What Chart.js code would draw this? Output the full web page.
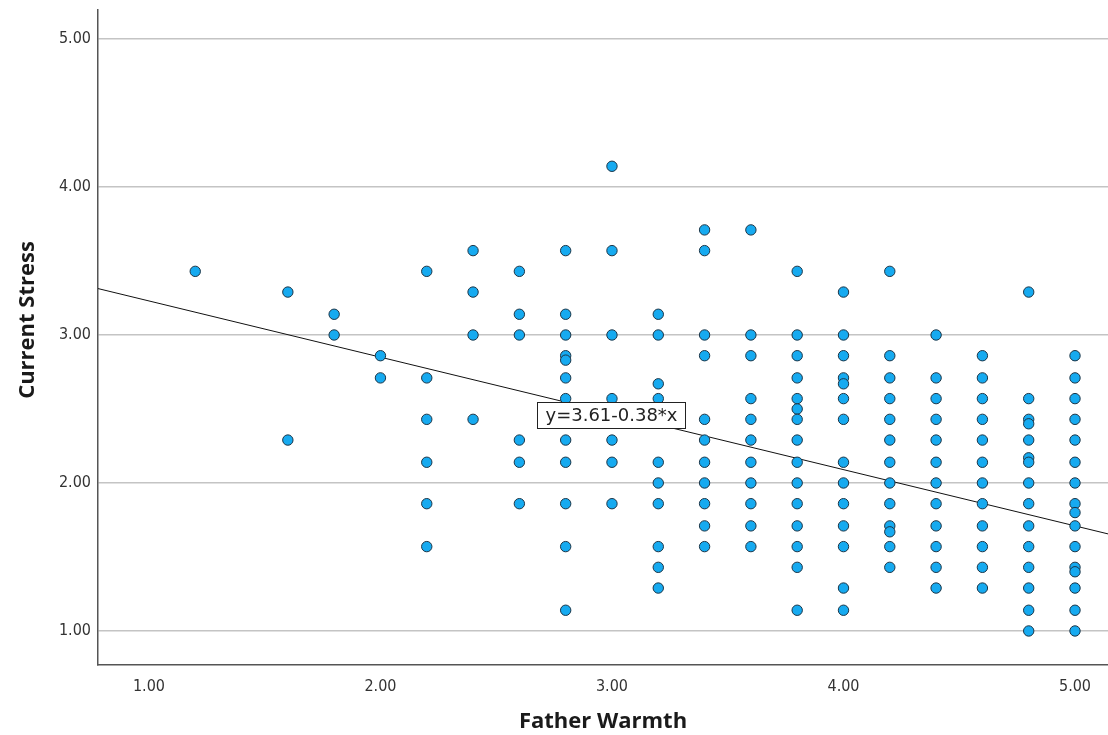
<!DOCTYPE html>
<html>
<head>
<meta charset="utf-8">
<script src="https://cdn.jsdelivr.net/npm/chart.js@4/dist/chart.umd.min.js"></script>
<style>
  html, body { margin: 0; padding: 0; background: #fff; }
  #wrap { width: 1108px; height: 735px; }
</style>
</head>
<body>
<div id="wrap"><canvas id="c" width="1108" height="735"></canvas></div>
<script>
// ---- data ----
const xTitle = "Father Warmth";
const yTitle = "Current Stress";
const xTicks = [1, 2, 3, 4, 5];
const yTicks = [1, 2, 3, 4, 5];
const fitIntercept = 3.61;
const fitSlope = -0.38;
const fitLabel = "y=3.61-0.38*x";
const fitLabelAt = [3.0, 2.46];

const warmthLevels = [1.2, 1.6, 1.8, 2.0, 2.2, 2.4, 2.6, 2.8, 3.0, 3.2, 3.4, 3.6, 3.8, 4.0, 4.2, 4.4, 4.6, 4.8, 5.0];
const stressAt12 = [3.43];
const stressAt16 = [3.29, 2.29];
const stressAt18 = [3.14, 3.00];
const stressAt20 = [2.86, 2.71];
const stressAt22 = [3.43, 2.71, 2.43, 2.14, 1.86, 1.57];
const stressAt24 = [3.57, 3.29, 3.00, 2.43];
const stressAt26 = [3.43, 3.14, 3.00, 2.29, 2.14, 1.86];
const stressAt28 = [3.57, 3.14, 3.00, 2.86, 2.83, 2.71, 2.57, 2.29, 2.14, 1.86, 1.57, 1.14];
const stressAt30 = [4.14, 3.57, 3.00, 2.57, 2.29, 2.14, 1.86];
const stressAt32 = [3.14, 3.00, 2.67, 2.57, 2.14, 2.00, 1.86, 1.57, 1.43, 1.29];
const stressAt34 = [3.71, 3.57, 3.00, 2.86, 2.43, 2.29, 2.14, 2.00, 1.86, 1.71, 1.57];
const stressAt36 = [3.71, 3.00, 2.86, 2.57, 2.43, 2.29, 2.14, 2.00, 1.86, 1.71, 1.57];
const stressAt38 = [3.43, 3.00, 2.86, 2.71, 2.57, 2.50, 2.43, 2.29, 2.14, 2.00, 1.86, 1.71, 1.57, 1.43, 1.14];
const stressAt40 = [3.29, 3.00, 2.86, 2.71, 2.67, 2.57, 2.43, 2.14, 2.00, 1.86, 1.71, 1.57, 1.29, 1.14];
const stressAt42 = [3.43, 2.86, 2.71, 2.57, 2.43, 2.29, 2.14, 2.00, 1.86, 1.71, 1.67, 1.57, 1.43];
const stressAt44 = [3.00, 2.71, 2.57, 2.43, 2.29, 2.14, 2.00, 1.86, 1.71, 1.57, 1.43, 1.29];
const stressAt46 = [2.86, 2.71, 2.57, 2.43, 2.29, 2.14, 2.00, 1.86, 1.71, 1.57, 1.43, 1.29];
const stressAt48 = [3.29, 2.57, 2.43, 2.40, 2.29, 2.17, 2.14, 2.00, 1.86, 1.71, 1.57, 1.43, 1.29, 1.14, 1.00];
const stressAt50 = [2.86, 2.71, 2.57, 2.43, 2.29, 2.14, 2.00, 1.86, 1.80, 1.71, 1.57, 1.43, 1.40, 1.29, 1.14, 1.00];

const stressColumns = [stressAt12, stressAt16, stressAt18, stressAt20, stressAt22, stressAt24, stressAt26,
  stressAt28, stressAt30, stressAt32, stressAt34, stressAt36, stressAt38, stressAt40, stressAt42,
  stressAt44, stressAt46, stressAt48, stressAt50];

// ---- build points ----
const points = [];
warmthLevels.forEach((w, i) => stressColumns[i].forEach(s => points.push({x: w, y: s})));

const X_MIN = 0.78, X_MAX = 5.1425, Y_MIN = 0.77, Y_MAX = 5.196;
const fitLine = [X_MIN, X_MAX].map(x => ({x: x, y: fitIntercept + fitSlope * x}));

const extras = {
  id: 'extras',
  afterDatasetsDraw(chart) {
    const {ctx, scales: {x, y}, chartArea} = chart;
    ctx.save();
    // fit label box
    const cx = x.getPixelForValue(fitLabelAt[0]);
    const cy = y.getPixelForValue(fitLabelAt[1]);
    const w = 148, h = 26;
    const bx = Math.round(cx - w / 2 - 1) + 0.5, by = Math.round(cy - h / 2) + 0.5;
    ctx.fillStyle = '#fff';
    ctx.fillRect(bx, by, w, h);
    ctx.strokeStyle = '#222';
    ctx.lineWidth = 1;
    ctx.strokeRect(bx, by, w, h);
    ctx.fillStyle = '#222';
    ctx.font = '18px "DejaVu Sans", sans-serif';
    ctx.textAlign = 'center';
    ctx.textBaseline = 'middle';
    ctx.fillText(fitLabel, bx + w / 2, by + h / 2 + 1);

    // axis titles
    ctx.fillStyle = '#1a1a1a';
    ctx.font = 'bold 22px "Open Sans", sans-serif';
    ctx.textAlign = 'center';
    ctx.textBaseline = 'middle';
    ctx.fillText(xTitle, (chartArea.left + chartArea.right) / 2, 722);
    ctx.translate(28, 320);
    ctx.rotate(-Math.PI / 2);
    ctx.fillText(yTitle, 0, 0);
    ctx.restore();
  }
};

new Chart(document.getElementById('c'), {
  type: 'scatter',
  data: {
    datasets: [
      {
        label: 'fit',
        type: 'line',
        data: fitLine,
        borderColor: '#111',
        borderWidth: 1,
        pointRadius: 0,
        fill: false,
        order: 2
      },
      {
        label: 'points',
        data: points,
        backgroundColor: '#16aaf0',
        borderColor: '#1b3547',
        borderWidth: 1,
        pointRadius: 5.2,
        pointHoverRadius: 5.2,
        order: 1
      }
    ]
  },
  plugins: [extras],
  options: {
    responsive: false,
    animation: false,
    events: [],
    layout: { autoPadding: false, padding: { top: 10, right: 0, left: 0, bottom: 0 } },
    plugins: { legend: { display: false }, tooltip: { enabled: false } },
    scales: {
      x: {
        type: 'linear',
        min: X_MIN, max: X_MAX,
        afterBuildTicks: (s) => { s.ticks = xTicks.map(v => ({value: v})); },
        afterFit: (s) => { s.height = 70; s.paddingLeft = 0; s.paddingRight = 0; },
        grid: { display: false, drawTicks: false },
        border: { display: true, color: '#555', width: 1.5 },
        ticks: {
          padding: 12,
          color: '#333',
          font: { family: '"DejaVu Sans Condensed", "DejaVu Sans", sans-serif', size: 16 },
          callback: (v) => Number(v).toFixed(2)
        }
      },
      y: {
        type: 'linear',
        min: Y_MIN, max: Y_MAX,
        afterBuildTicks: (s) => { s.ticks = yTicks.map(v => ({value: v})); },
        afterFit: (s) => { s.width = 98; s.paddingTop = 0; s.paddingBottom = 0; },
        grid: { display: true, color: '#c4c4c4', lineWidth: 1.5, drawTicks: false },
        border: { display: true, color: '#555', width: 1.5 },
        ticks: {
          padding: 7,
          color: '#333',
          font: { family: '"DejaVu Sans Condensed", "DejaVu Sans", sans-serif', size: 16 },
          callback: (v) => Number(v).toFixed(2)
        }
      }
    }
  }
});
</script>
</body>
</html>
